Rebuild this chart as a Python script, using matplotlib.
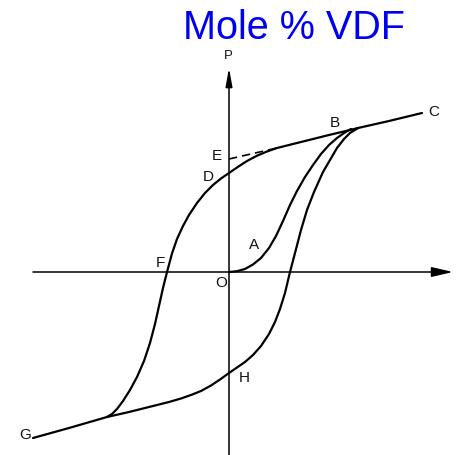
import matplotlib
matplotlib.use('Agg')
import matplotlib.pyplot as plt

# Hysteresis loop P vs E, coordinates relative to origin O
# virgin curve O -> A -> B
virgin_x = [0, 8, 16, 24, 32, 40, 47, 54, 61, 68, 76, 84, 92, 100, 108, 115, 122]
virgin_y = [0, 0.8, 3, 7.5, 14, 24, 36, 51, 67, 81, 95, 107, 118, 127, 134, 139, 143]

# descending branch C -> B -> D -> F -> G
upper_x = [193, 160, 129, 121, 100, 80, 60, 48, 38, 28, 18, 8, 0, -8, -16, -24,
           -32, -40, -46, -52, -57, -62, -66, -70, -74, -79, -85, -92, -99,
           -106, -112, -117, -122, -160, -196]
upper_y = [159, 151, 144, 142, 137, 132, 127, 124, 120.5, 116.3, 111, 104.5, 99,
           93.5, 87, 79, 69, 57, 46, 33, 18.5, 0, -16, -34, -52, -71, -89, -105,
           -118, -129, -137, -142, -145, -156, -166]

# ascending branch G -> H -> B
lower_x = [-122, -100, -80, -60, -48, -38, -28, -18, -9, 0, 8, 16, 24, 32, 40,
           46, 51, 56, 61, 66, 72, 78, 85, 94, 101, 108, 115, 121, 129]
lower_y = [-145, -140, -135, -130, -126.5, -123, -119, -113.5, -107.5, -101, -95.5,
           -90, -83, -74, -62, -50, -37, -21, 0, 19, 42, 62, 80, 100, 112, 124,
           133, 139, 144]

# dashed extrapolation B -> E
dash_x = [0, 48]
dash_y = [113, 124]

labels = ['A', 'B', 'C', 'D', 'E', 'F', 'G', 'H', 'O']
label_x = [25, 106, 205, -21, -12, -69, -204, 15, -8]
label_y = [27, 149, 160, 95, 116, 9, -163, -106, -11]

fig = plt.figure(figsize=(4.59, 4.55), dpi=100)
ax = fig.add_axes([0, 0, 1, 1])
ax.set_xlim(-229, 230)
ax.set_ylim(-183, 272)
ax.axis('off')

# axes with arrows
ax.annotate('', xy=(224, 0), xytext=(-196, 0),
            arrowprops=dict(arrowstyle='-|>,head_length=1.3,head_width=0.3',
                            lw=1.1, color='black', mutation_scale=10,
                            shrinkA=0, shrinkB=0))
ax.annotate('', xy=(0, 204), xytext=(0, -183),
            arrowprops=dict(arrowstyle='-|>,head_length=1.1,head_width=0.2',
                            lw=1.1, color='black', mutation_scale=10,
                            shrinkA=0, shrinkB=0))

ax.plot(virgin_x, virgin_y, color='black', lw=1.6, solid_capstyle='round')
ax.plot(upper_x, upper_y, color='black', lw=1.6, solid_capstyle='round')
ax.plot(lower_x, lower_y, color='black', lw=1.6, solid_capstyle='round')
ax.plot(dash_x, dash_y, color='black', lw=1.2, ls=(0, (5, 3)))

for t, x, y in zip(labels, label_x, label_y):
    ax.text(x, y, t, fontsize=11, family='Liberation Sans',
            ha='center', va='center', color='#111111')
ax.text(-1, 216, 'P', fontsize=9.5, family='Liberation Sans',
        ha='center', va='center', color='#111111')

fig.text(294 / 459, 1 - 28 / 455, 'Mole % VDF', fontsize=28.5,
         family='Liberation Sans', color='#0000ee', ha='center', va='center')

plt.savefig('out.png')
plt.close()
